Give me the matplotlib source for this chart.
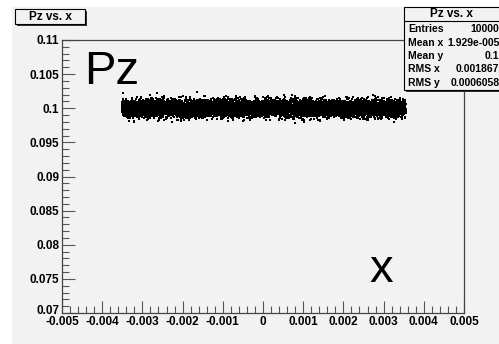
import numpy as np
import matplotlib.pyplot as plt
from matplotlib.patches import Rectangle
from matplotlib.ticker import MultipleLocator
from matplotlib.transforms import ScaledTranslation

# histogram statistics (TH2 "Pz vs. x")
n_entries = 10000
mean_x = 1.929e-05
mean_y = 0.1
rms_x = 0.001867
rms_y = 0.0006058
x_half_width = 0.00353   # beam extent in x

stat_labels = ["Entries", "Mean x", "Mean y", "RMS x", "RMS y"]
stat_values = ["10000", "1.929e-005", "0.1", "0.001867", "0.0006058"]

x_ticks = [-0.005, -0.004, -0.003, -0.002, -0.001, 0, 0.001, 0.002, 0.003, 0.004, 0.005]
x_tick_labels = ["-0.005", "-0.004", "-0.003", "-0.002", "-0.001", "0",
                 "0.001", "0.002", "0.003", "0.004", "0.005"]
y_ticks = [0.07, 0.075, 0.08, 0.085, 0.09, 0.095, 0.1, 0.105, 0.11]
y_tick_labels = ["0.07", "0.075", "0.08", "0.085", "0.09", "0.095", "0.1", "0.105", "0.11"]

# the entries themselves
rng = np.random.default_rng(7)
x = rng.uniform(-x_half_width, x_half_width, n_entries) + mean_x
pz = rng.normal(mean_y, rms_y, n_entries)

bg = "#f2f2f2"
plt.rcParams['font.family'] = ['Liberation Sans', 'DejaVu Sans']

fig = plt.figure(figsize=(4.99, 3.44), dpi=100)
fig.patch.set_facecolor("white")
# grey canvas (white strip left and top)
fig.patches.append(Rectangle((12 / 499, 0), 1, 1 - 7 / 344, transform=fig.transFigure,
                             facecolor=bg, edgecolor="none", zorder=-5))

ax = fig.add_axes([62 / 499, 31 / 344, 402 / 499, 273 / 344])
ax.set_zorder(1)
ax.set_facecolor(bg)
ax.plot(x, pz, linestyle="none", marker="s", markersize=1.5, markeredgewidth=0,
        color="black")
ax.set_xlim(-0.005, 0.005)
ax.set_ylim(0.07, 0.11)

ax.set_xticks(x_ticks)
ax.set_xticklabels(x_tick_labels)
ax.set_yticks(y_ticks)
ax.set_yticklabels(y_tick_labels)
ax.xaxis.set_minor_locator(MultipleLocator(0.0002))
ax.yaxis.set_minor_locator(MultipleLocator(0.001))
ax.tick_params(which="both", direction="in", top=False, right=False,
               color="#555555", width=0.8)
ax.tick_params(which="major", length=9, labelsize=8.5, pad=2)
ax.tick_params(which="minor", length=5)
for lab in ax.get_xticklabels() + ax.get_yticklabels():
    lab.set_fontweight("bold")
# lift the lowest y label a little off the x labels
low = ax.get_yticklabels()[0]
low.set_transform(low.get_transform() + ScaledTranslation(0, 3 / 100, fig.dpi_scale_trans))
for sp in ax.spines.values():
    sp.set_color("#444444")
    sp.set_linewidth(0.9)

# axis titles drawn inside the frame
ax.text(0.055, 0.965, "Pz", transform=ax.transAxes, fontsize=34,
        ha="left", va="top")
ax.text(0.765, 0.115, "x", transform=ax.transAxes, fontsize=34,
        ha="left", va="baseline")

# title box
fig.patches.append(Rectangle((17 / 499, 1 - 26 / 344), 70 / 499, 15 / 344,
                             transform=fig.transFigure, facecolor="#333333",
                             edgecolor="none", zorder=2))
fig.patches.append(Rectangle((15 / 499, 1 - 24 / 344), 70 / 499, 15 / 344,
                             transform=fig.transFigure, facecolor=bg,
                             edgecolor="black", linewidth=0.8, zorder=3))
fig.text(50 / 499, 1 - 16.5 / 344, "Pz vs. x", fontsize=8.5, fontweight="bold",
         ha="center", va="center", zorder=4)

# stats box
sx0, sy0, sx1, sy1 = 404, 7, 502, 90
fig.patches.append(Rectangle(((sx0 + 2) / 499, 1 - (sy1 + 2) / 344),
                             (sx1 - sx0) / 499, (sy1 - sy0) / 344,
                             transform=fig.transFigure, facecolor="#333333",
                             edgecolor="none", zorder=2))
fig.patches.append(Rectangle((sx0 / 499, 1 - sy1 / 344), (sx1 - sx0) / 499,
                             (sy1 - sy0) / 344, transform=fig.transFigure,
                             facecolor=bg, edgecolor="black", linewidth=0.8, zorder=3))
fig.add_artist(plt.Line2D([sx0 / 499, 1], [1 - 21 / 344] * 2,
                          transform=fig.transFigure, color="black", linewidth=0.8,
                          zorder=4))
fig.text(451 / 499, 1 - 14 / 344, "Pz vs. x", fontsize=8.5, fontweight="bold",
         ha="center", va="center", zorder=4)
row_y = [29, 43, 56, 69, 83]
for lab, val, ry in zip(stat_labels, stat_values, row_y):
    fig.text(408 / 499, 1 - ry / 344, lab, fontsize=7.5, fontweight="bold",
             ha="left", va="center", zorder=4)
    fig.text(499.5 / 499, 1 - ry / 344, val, fontsize=7.5, fontweight="bold",
             ha="right", va="center", zorder=4)

fig.savefig("out.png", dpi=100)
